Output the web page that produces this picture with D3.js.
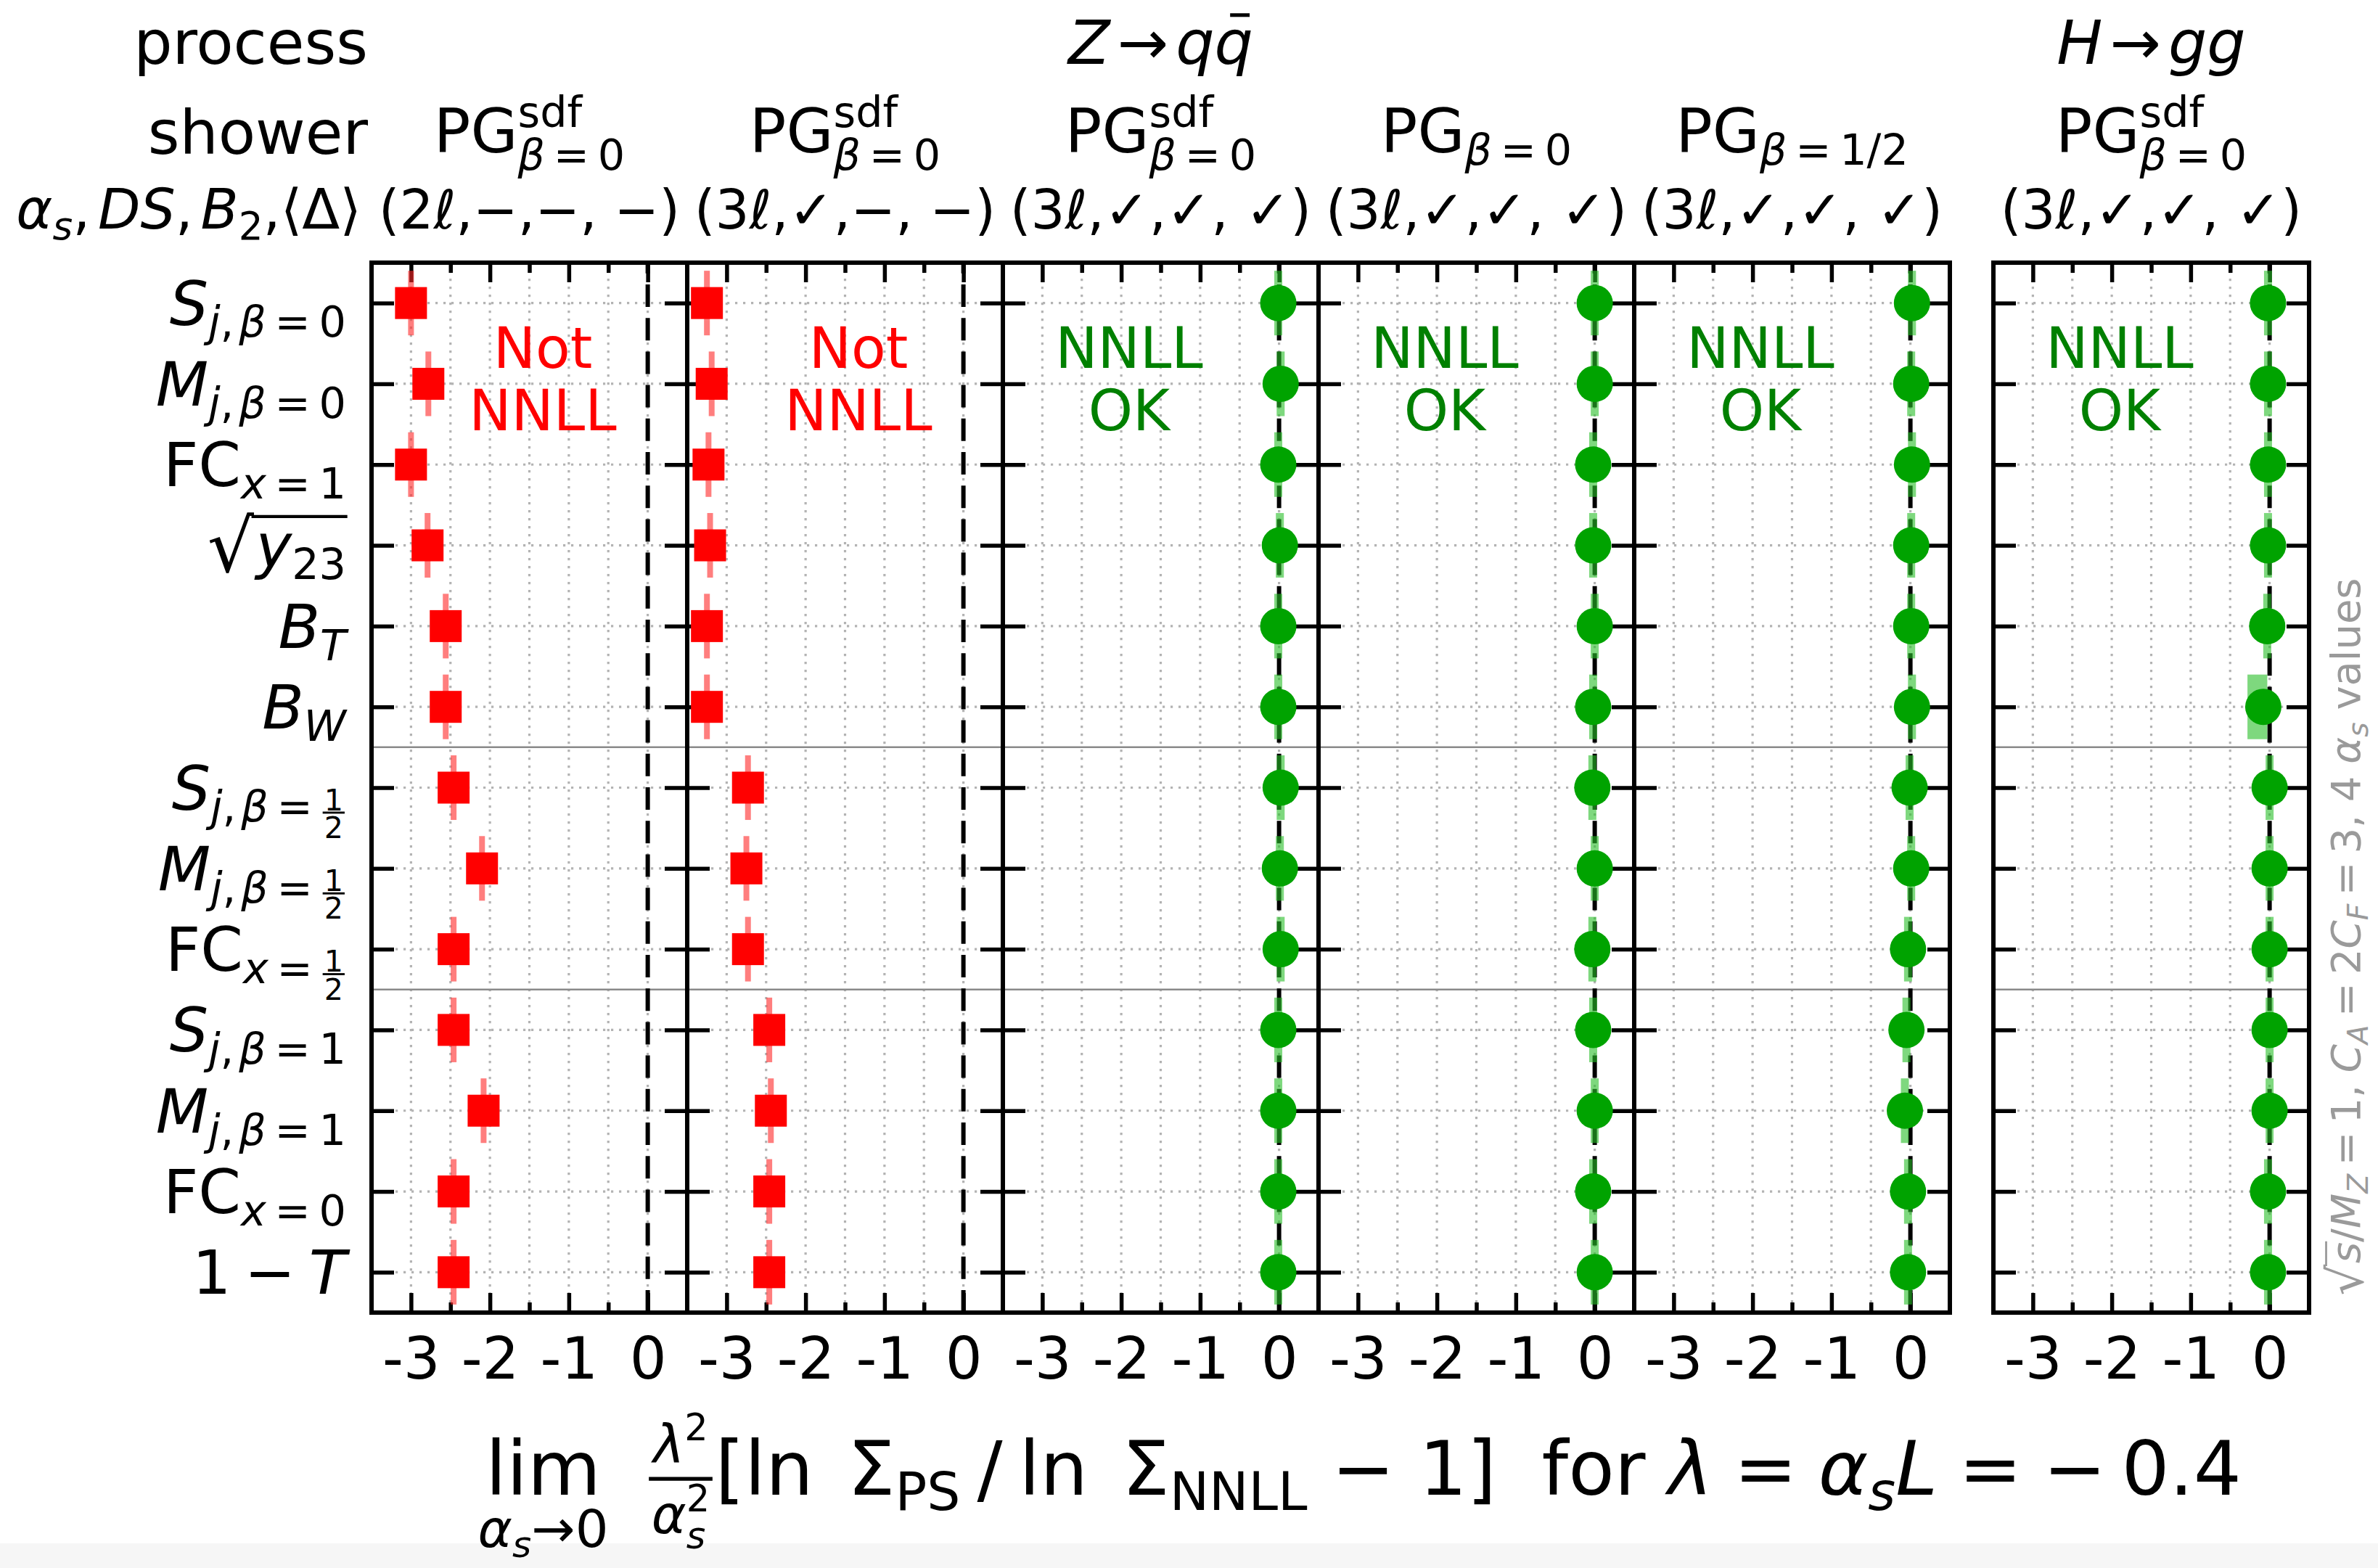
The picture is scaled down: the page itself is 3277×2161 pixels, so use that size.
<!DOCTYPE html>
<html>
<head>
<meta charset="utf-8">
<script src="https://cdn.jsdelivr.net/npm/d3@7"></script>
<style>
  body { margin: 0; background: #fff; }
  text { font-family: "DejaVu Sans"; }
</style>
</head>
<body>
<svg id="chart"></svg>
<script>
// little helpers to write the mathtext-like labels
function I(t) { return {t: t, it: true}; }
function R(t) { return {t: t}; }
function gap(em) { return {gap: em}; }
function sub() { return {sub: [].slice.call(arguments)}; }
function sup() { return {sup: [].slice.call(arguments)}; }
function supsub(a, b) { return {sup: a, sub: b}; }
function frac(n, d, style) { return {frac: [n, d], style: style}; }
function sqrt() { return {sqrt: [].slice.call(arguments)}; }
function bar() { return {bar: [].slice.call(arguments)}; }
function eq() { return [gap(0.2), R("="), gap(0.2)]; }

// ---- data ----
var xMajor = [-3, -2, -1, 0];
var xMinor = [-2.5, -1.5, -0.5];
var xGrid = [-3, -2.5, -2, -1.5, -1, -0.5, 0];

var observables = [
  [I("S"), sub(I("j"), R(","), gap(0.12), I("β"), ...eq(), R("0"))],
  [I("M"), sub(I("j"), R(","), gap(0.12), I("β"), ...eq(), R("0"))],
  [R("FC"), sub(I("x"), ...eq(), R("1"))],
  [sqrt(I("y"), sub(R("23")))],
  [I("B"), sub(I("T"))],
  [I("B"), sub(I("W"))],
  [I("S"), sub(I("j"), R(","), gap(0.12), I("β"), ...eq(), frac([R("1")], [R("2")]))],
  [I("M"), sub(I("j"), R(","), gap(0.12), I("β"), ...eq(), frac([R("1")], [R("2")]))],
  [R("FC"), sub(I("x"), ...eq(), frac([R("1")], [R("2")]))],
  [I("S"), sub(I("j"), R(","), gap(0.12), I("β"), ...eq(), R("1"))],
  [I("M"), sub(I("j"), R(","), gap(0.12), I("β"), ...eq(), R("1"))],
  [R("FC"), sub(I("x"), ...eq(), R("0"))],
  [R("1"), gap(0.22), R("−"), gap(0.22), I("T")]
];

// separators between observable families (row positions)
var separators = [5.5, 8.5];

// shower columns
var showers = [
  [R("PG"), supsub([R("sdf")], [I("β"), ...eq(), R("0")])],
  [R("PG"), supsub([R("sdf")], [I("β"), ...eq(), R("0")])],
  [R("PG"), supsub([R("sdf")], [I("β"), ...eq(), R("0")])],
  [R("PG"), sub(I("β"), ...eq(), R("0"))],
  [R("PG"), sub(I("β"), ...eq(), R("1/2"))],
  [R("PG"), supsub([R("sdf")], [I("β"), ...eq(), R("0")])]
];
var settings = ["(2ℓ,−,−, −)", "(3ℓ,✓,−, −)", "(3ℓ,✓,✓, ✓)", "(3ℓ,✓,✓, ✓)", "(3ℓ,✓,✓, ✓)", "(3ℓ,✓,✓, ✓)"];
var verdicts = [["Not", "NNLL"], ["Not", "NNLL"], ["NNLL", "OK"], ["NNLL", "OK"], ["NNLL", "OK"], ["NNLL", "OK"]];

// extrapolated alpha_s -> 0 values, one per observable
var pg2lValues  = [-3.00, -2.78, -3.00, -2.79, -2.56, -2.56, -2.46, -2.10, -2.46, -2.46, -2.08, -2.46, -2.46];
var pg3lValues  = [-3.25, -3.19, -3.23, -3.21, -3.25, -3.25, -2.73, -2.75, -2.73, -2.46, -2.44, -2.46, -2.46];
var sdfValues   = [-0.01, 0.02, -0.01, 0.01, -0.01, -0.01, 0.02, 0.01, 0.02, -0.01, -0.01, -0.01, -0.01];
var beta0Values = [0.00, 0.00, -0.02, -0.02, 0.00, -0.02, -0.03, 0.00, -0.03, -0.02, 0.00, -0.02, 0.00];
var betaHValues = [0.02, 0.01, 0.02, 0.01, 0.01, 0.02, -0.01, 0.01, -0.03, -0.05, -0.07, -0.03, -0.03];
var hggValues   = [-0.02, -0.02, -0.02, -0.02, -0.03, -0.08, 0.00, 0.00, 0.00, 0.00, 0.00, -0.02, -0.02];
var hggSpread   = [0, 0, 0, 0, 0, -0.15, 0, 0, 0, 0, 0, 0, 0];

var panels = [
  {values: pg2lValues, ok: false},
  {values: pg3lValues, ok: false},
  {values: sdfValues, ok: true},
  {values: beta0Values, ok: true},
  {values: betaHValues, ok: true},
  {values: hggValues, spread: hggSpread, ok: true}
];

// ---- layout ----
var svgWidth = 3277;
var svgHeight = 2161;
var margin = {top: 362, right: 95, bottom: 352, left: 512};
var panelWidth = 435;
var groupGap = 60;

var red = "#ff0000", redBar = "rgba(255,40,40,0.6)";
var green = "#00a300", greenBar = "rgba(40,190,40,0.6)", greenText = "#008000";

var svg = d3.select("#chart")
  .attr("width", svgWidth)
  .attr("height", svgHeight);
svg.append("rect").attr("width", svgWidth).attr("height", svgHeight).attr("fill", "#fff");
svg.append("rect").attr("y", 2127).attr("width", svgWidth).attr("height", svgHeight - 2127).attr("fill", "#f6f6f6");

// tiny mathtext layout: draws parts left to right, returns end x
function drawMath(g, parts, x, base, fs) {
  parts.forEach(function(p) {
    if (typeof p === "string") p = {t: p};
    if (p.gap != null) {
      x += p.gap * fs;
    } else if (p.t != null) {
      var t = g.append("text").attr("x", x).attr("y", base)
        .attr("font-size", fs).text(p.t);
      if (p.it) t.attr("font-style", "italic");
      x += t.node().getComputedTextLength();
    } else if (p.sub && p.sup) {
      var a = drawMath(g, p.sup, x, base - 0.42 * fs, 0.7 * fs);
      var b = drawMath(g, p.sub, x, base + 0.29 * fs, 0.7 * fs);
      x = Math.max(a, b);
    } else if (p.sub) {
      x = drawMath(g, p.sub, x, base + 0.2 * fs, 0.7 * fs);
    } else if (p.sup) {
      x = drawMath(g, p.sup, x, base - 0.42 * fs, 0.7 * fs);
    } else if (p.frac) {
      var ff = 0.7 * fs;
      var axis = base - 0.21 * fs;
      var sh = p.style === "display" ? [0.31, 1.03] : [0.08, 0.85];
      var ng = g.append("g"), dg = g.append("g");
      var wn = drawMath(ng, p.frac[0], 0, axis - sh[0] * ff, ff);
      var wd = drawMath(dg, p.frac[1], 0, axis + sh[1] * ff, ff);
      var w = Math.max(wn, wd) + 0.2 * ff;
      ng.attr("transform", "translate(" + (x + (w - wn) / 2) + ",0)");
      dg.attr("transform", "translate(" + (x + (w - wd) / 2) + ",0)");
      g.append("line")
        .attr("x1", x + 0.05 * ff).attr("x2", x + w - 0.05 * ff)
        .attr("y1", axis).attr("y2", axis)
        .attr("stroke", "currentColor").attr("stroke-width", Math.max(2, 0.07 * ff));
      x += w;
    } else if (p.sqrt) {
      var r = g.append("text").attr("x", x).attr("y", base + 0.08 * fs)
        .attr("font-size", 1.2 * fs).text("√");
      var x1 = x + r.node().getComputedTextLength();
      var x2 = drawMath(g, p.sqrt, x1 + 0.03 * fs, base, fs);
      g.append("line")
        .attr("x1", x1 - 0.04 * fs).attr("x2", x2 + 0.02 * fs)
        .attr("y1", base - 0.83 * fs).attr("y2", base - 0.83 * fs)
        .attr("stroke", "currentColor").attr("stroke-width", 0.05 * fs);
      x = x2;
    } else if (p.bar) {
      var x3 = drawMath(g, p.bar, x, base, fs);
      var mid = (x + x3) / 2 + 0.1 * fs;
      g.append("line")
        .attr("x1", mid - 0.16 * fs).attr("x2", mid + 0.16 * fs)
        .attr("y1", base - 0.8 * fs).attr("y2", base - 0.8 * fs)
        .attr("stroke", "currentColor").attr("stroke-width", 0.06 * fs);
      x = x3;
    }
  });
  return x;
}

// anchor: "start", "middle", "end"
function mathLabel(parent, parts, ax, base, fs, anchor, color) {
  var g = parent.append("g").attr("fill", color || "#000").style("color", color || "#000");
  var w = drawMath(g, parts, 0, base, fs);
  var dx = anchor === "end" ? ax - w : anchor === "middle" ? ax - w / 2 : ax;
  g.attr("transform", "translate(" + dx + ",0)");
  return {g: g, width: w};
}

var y = d3.scaleLinear()
  .domain([-0.5, observables.length - 0.5])
  .range([margin.top, svgHeight - margin.bottom]);
var rows = d3.range(observables.length);
var yTop = y.range()[0], yBot = y.range()[1];

function inward(axis, size, fmt) {
  return function(sel) {
    sel.call(axis.tickSize(-size).tickFormat(fmt || function() { return ""; }));
    sel.select(".domain").remove();
    sel.selectAll(".tick line").attr("stroke", "#000").attr("stroke-width", 5.5);
  };
}

var panelCenters = [];

panels.forEach(function(p, i) {
  var left = margin.left + i * panelWidth + (i >= 5 ? groupGap : 0);
  var x = d3.scaleLinear().domain([-3.5, 0.5]).range([left, left + panelWidth]);
  panelCenters.push(left + panelWidth / 2);
  var g = svg.append("g").attr("class", "panel");

  // dotted grid
  g.selectAll("line.vgrid").data(xGrid).enter().append("line")
    .attr("x1", d => x(d)).attr("x2", d => x(d))
    .attr("y1", yTop).attr("y2", yBot)
    .attr("stroke", "#b3b3b3").attr("stroke-width", 3.2).attr("stroke-dasharray", "3.2,7.8");
  g.selectAll("line.hgrid").data(rows).enter().append("line")
    .attr("x1", left).attr("x2", left + panelWidth)
    .attr("y1", d => y(d)).attr("y2", d => y(d))
    .attr("stroke", "#b3b3b3").attr("stroke-width", 3.2).attr("stroke-dasharray", "3.2,7.8");

  // family separators
  g.selectAll("line.sep").data(separators).enter().append("line")
    .attr("x1", left).attr("x2", left + panelWidth)
    .attr("y1", d => y(d)).attr("y2", d => y(d))
    .attr("stroke", "#8a8a8a").attr("stroke-width", 2.5);

  // dashed reference line at 0
  g.append("line")
    .attr("x1", x(0)).attr("x2", x(0)).attr("y1", yBot).attr("y2", yTop)
    .attr("stroke", "#000").attr("stroke-width", 6).attr("stroke-dasharray", "31,15.2");

  // ticks, all inward
  g.append("g").attr("transform", `translate(0,${yBot})`)
    .call(inward(d3.axisBottom(x).tickValues(xMajor).tickPadding(34), 27, d => String(d)))
    .attr("font-size", 80).attr("font-family", "DejaVu Sans")
    .selectAll("text").attr("fill", "#000");
  g.append("g").attr("transform", `translate(0,${yBot})`)
    .call(inward(d3.axisBottom(x).tickValues(xMinor), 14));
  g.append("g").attr("transform", `translate(0,${yTop})`)
    .call(inward(d3.axisTop(x).tickValues(xMajor), 27));
  g.append("g").attr("transform", `translate(0,${yTop})`)
    .call(inward(d3.axisTop(x).tickValues(xMinor), 14));
  g.append("g").attr("transform", `translate(${left},0)`)
    .call(inward(d3.axisLeft(y).tickValues(rows), 31));
  g.append("g").attr("transform", `translate(${left + panelWidth},0)`)
    .call(inward(d3.axisRight(y).tickValues(rows), 31));

  // spread of the finite-alpha_s runs
  var spread = p.spread || [];
  var bw = p.ok ? 11 : 8;
  g.selectAll("rect.bar").data(p.values).enter().append("rect")
    .attr("x", (d, j) => x(Math.min(d, d + (spread[j] || 0))) - bw / 2)
    .attr("width", (d, j) => Math.abs(x(d + (spread[j] || 0)) - x(d)) + bw)
    .attr("y", (d, j) => y(j - 0.4))
    .attr("height", (d, j) => y(j + 0.4) - y(j - 0.4))
    .attr("fill", p.ok ? greenBar : redBar);

  // extrapolated points
  if (p.ok) {
    g.selectAll("circle.pt").data(p.values).enter().append("circle")
      .attr("cx", d => x(d)).attr("cy", (d, j) => y(j)).attr("r", 25)
      .attr("fill", green);
  } else {
    g.selectAll("rect.pt").data(p.values).enter().append("rect")
      .attr("x", d => x(d) - 22).attr("y", (d, j) => y(j) - 22)
      .attr("width", 44).attr("height", 44)
      .attr("fill", red);
  }

  // frame
  g.append("rect")
    .attr("x", left).attr("y", yTop)
    .attr("width", panelWidth).attr("height", yBot - yTop)
    .attr("fill", "none").attr("stroke", "#000").attr("stroke-width", 6);

  // verdict
  var vx = x(p.ok ? -1.9 : -1.33);
  g.selectAll("text.verdict").data(verdicts[i]).enter().append("text")
    .attr("x", vx).attr("y", (d, k) => y(0.8) + k * 86)
    .attr("text-anchor", "middle").attr("font-size", 78)
    .attr("fill", p.ok ? greenText : red)
    .text(d => d);
});

// observable labels
observables.forEach(function(parts, j) {
  mathLabel(svg, parts, 477, y(j) + 30, 84, "end");
});

// header
var hdr = svg.append("g");
mathLabel(hdr, [R("process")], 507, 88, 84, "end");
mathLabel(hdr, [R("shower")], 507, 212, 84, "end");
mathLabel(hdr, [I("α"), sub(I("s")), R(","), gap(0.14), I("D"), I("S"), R(","), gap(0.14),
  I("B"), sub(R("2")), R(","), R("⟨"), R("Δ"), R("⟩")], 498, 315, 76, "end");
mathLabel(hdr, [I("Z"), gap(0.12), R("→"), gap(0.12), I("q"), bar(I("q"))], panelCenters[2], 88, 84, "middle");
mathLabel(hdr, [I("H"), gap(0.12), R("→"), gap(0.12), I("g"), I("g")], panelCenters[5], 88, 84, "middle");
showers.forEach(function(parts, i) {
  mathLabel(hdr, parts, panelCenters[i], 210, 84, "middle");
  mathLabel(hdr, [R(settings[i])], panelCenters[i], 315, 74, "middle");
});

// x label
var xl = svg.append("g");
var lim = mathLabel(xl, [R("lim")], 669, 2060, 104, "start");
mathLabel(xl, [I("α"), sub(I("s")), R("→"), R("0")], 669 + lim.width / 2, 2132, 72, "middle");
var rest = [
  gap(0.6),
  frac([I("λ"), sup(R("2"))], [I("α"), supsub([R("2")], [I("s")])], "display"),
  R("["), R("ln"), gap(0.45), R("Σ"), sub(R("PS")), gap(0.22), R("/"), gap(0.22),
  R("ln"), gap(0.45), R("Σ"), sub(R("NNLL")), gap(0.32), R("−"), gap(0.32), R("1"), R("]"),
  gap(0.6), R("for"), gap(0.3), I("λ"), gap(0.28), R("="), gap(0.28),
  I("α"), sub(I("s")), I("L"), gap(0.28), R("="), gap(0.28), R("−"), gap(0.2), R("0.4")
];
mathLabel(xl, rest, 669 + lim.width, 2060, 104, "start");

// side note
var side = svg.append("g").attr("transform", "translate(3252,1291) rotate(-90)");
mathLabel(side, [sqrt(I("s")), R("/"), I("M"), sub(I("Z")), ...eq(), R("1,"), gap(0.3),
  I("C"), sub(I("A")), ...eq(), R("2"), I("C"), sub(I("F")), ...eq(), R("3, 4"), gap(0.3),
  I("α"), sub(I("s")), gap(0.3), R("values")], 0, 0, 56, "middle", "#9a9a9a");
</script>
</body>
</html>
